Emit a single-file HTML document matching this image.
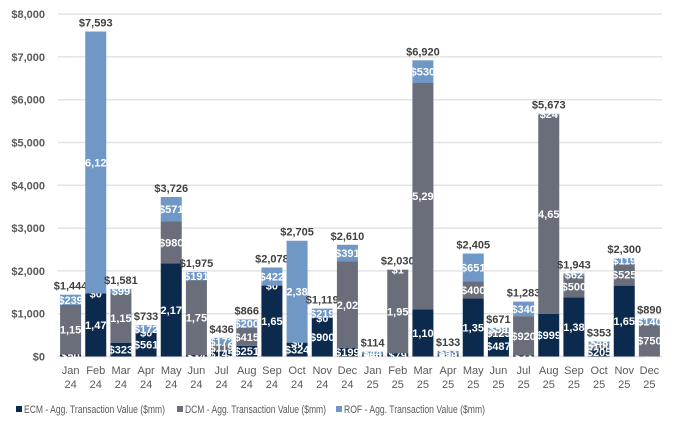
<!DOCTYPE html>
<html><head><meta charset="utf-8"><style>
body{margin:0;background:#fff;width:691px;height:431px;overflow:hidden}
svg{display:block;font-family:"Liberation Sans",Arial,sans-serif}
</style></head><body>
<svg id="chart" width="691" height="431"></svg>
<script>
const months=["Jan","Feb","Mar","Apr","May","Jun","Jul","Aug","Sep","Oct","Nov","Dec","Jan","Feb","Mar","Apr","May","Jun","Jul","Aug","Sep","Oct","Nov","Dec"];
const years=["24","24","24","24","24","24","24","24","24","24","24","24","25","25","25","25","25","25","25","25","25","25","25","25"];
const ecm=[50,1473,323,561,2175,34,145,251,1657,324,900,199,30,79,1100,30,1354,487,23,999,1381,205,1656,0];
const dcm=[1155,0,1159,0,980,1750,119,415,0,0,0,2020,40,1950,5290,50,400,125,920,4650,500,100,525,750];
const rof=[239,6120,99,172,571,191,172,200,422,2381,219,391,44,1,530,53,651,59,340,24,62,48,119,140];
const totals=[1444,7593,1581,733,3726,1975,436,866,2078,2705,1119,2610,114,2030,6920,133,2405,671,1283,5673,1943,353,2300,890];
const yTicks=[0,1000,2000,3000,4000,5000,6000,7000,8000];
const NS="http://www.w3.org/2000/svg";
const svg=document.getElementById('chart');
const L=58,R=662,Y0=356.5,K=42.8/1000;
const bw=(R-L)/months.length;
const y=v=>Y0-v*K;
const x=i=>L+bw*i+bw/2;
function mk(t,a,p){const e=document.createElementNS(NS,t);for(const k in a)e.setAttribute(k,a[k]);(p||svg).appendChild(e);return e;}
const fmt=v=>'$'+v.toLocaleString('en-US');
const defs=mk('defs',{});
yTicks.forEach(v=>{
 const g=mk('line',{x1:L,x2:R,y1:y(v),y2:y(v),stroke:'#e3e3e3','stroke-width':1.5});
 
 
 const t=mk('text',{x:45,y:y(v)+4,'text-anchor':'end','font-size':11,'font-weight':'bold',fill:'#595959'});
 t.textContent=fmt(v);
 
 
});
const series=[[ecm,'#0c2a4d','ecm'],[dcm,'#6a6e7a','dcm'],[rof,'#7098c6','rof']];
months.forEach((m,i)=>{
 const bx=x(i)-10.5;
 const cp=mk('clipPath',{id:'c'+i},defs);
 mk('rect',{x:bx,y:0,width:21,height:431},cp);
 let base=0;
 series.forEach(([arr,col,nm])=>{
  const v=arr[i];
  const r=mk('rect',{x:bx,y:y(base+v),width:21,height:v*K,fill:col});
  
  
  const g=mk('g',{'clip-path':'url(#c'+i+')'});
  const t=mk('text',{x:x(i),y:y(base+v/2)+4,'text-anchor':'middle','font-size':11,'font-weight':'bold',fill:'#fff'},g);
  t.textContent=fmt(v);
  
  
  base+=v;
 });
 const tt=mk('text',{x:x(i),y:y(base)-5,'text-anchor':'middle','font-size':11,'font-weight':'bold',fill:'#404040'});
 tt.textContent=fmt(totals[i]);
 
 
 const a=mk('text',{x:x(i),y:374,'text-anchor':'middle','font-size':11,fill:'#595959'});
 a.textContent=m;
 
 
 const b=mk('text',{x:x(i),y:388,'text-anchor':'middle','font-size':11,fill:'#595959'});
 b.textContent=years[i];
 
 
});
const leg=[['ECM - Agg. Transaction Value ($mm)','#0c2a4d',16],['DCM - Agg. Transaction Value ($mm)','#6a6e7a',177],['ROF - Agg. Transaction Value ($mm)','#7098c6',336]];
leg.forEach(([lbl,col,lx])=>{
 const s=mk('rect',{x:lx,y:406,width:6,height:6,fill:col});
 
 
 const t=mk('text',{x:lx+8,y:413,'font-size':11,fill:'#595959',textLength:141,lengthAdjust:'spacingAndGlyphs'});
 t.textContent=lbl;
 
 
});
</script>
</body></html>
